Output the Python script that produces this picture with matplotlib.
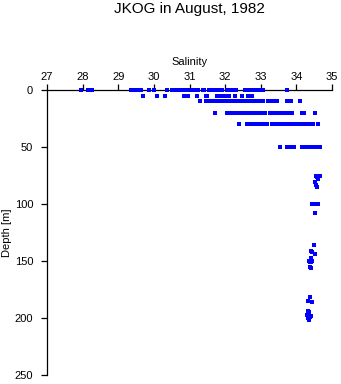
import matplotlib
matplotlib.use('Agg')
import matplotlib.pyplot as plt
import numpy as np

plt.rcParams['font.family'] = ['Liberation Sans', 'DejaVu Sans']

# Salinity readings at the standard upper depths (m)
sal_0m = [27.95, 28.15, 28.2, 28.25, 29.35, 29.42, 29.5, 29.58, 29.65, 29.85, 30.0,
          30.38, 30.5, 30.55, 30.6, 30.65, 30.7, 30.75, 30.8, 30.85, 30.95, 31.05,
          31.1, 31.15, 31.25, 31.38, 31.42, 31.55, 31.6, 31.65, 31.7, 31.75, 31.8,
          31.9, 32.05, 32.1, 32.2, 32.3, 32.55, 32.6, 32.65, 32.7, 32.75, 32.8,
          32.85, 32.9, 32.95, 33.0, 33.05, 33.75]
sal_5m = [29.7, 30.08, 30.3, 30.85, 30.97, 31.2, 31.45, 31.5, 31.78, 31.85, 31.9,
          31.95, 32.0, 32.05, 32.1, 32.27, 32.48, 32.65, 32.7, 32.75]
sal_10m = [31.3, 31.45, 31.5, 31.55, 31.6, 31.65, 31.7, 31.75, 31.8, 31.85, 31.95,
           32.0, 32.05, 32.1, 32.2, 32.25, 32.3, 32.4, 32.45, 32.5, 32.55, 32.6,
           32.65, 32.7, 32.75, 32.8, 32.85, 32.9, 32.95, 33.0, 33.05, 33.2, 33.25,
           33.3, 33.35, 33.4, 33.45, 33.75, 33.85, 34.1]
sal_20m = [31.72, 32.05, 32.1, 32.15, 32.2, 32.25, 32.3, 32.4, 32.45, 32.5, 32.55,
           32.6, 32.65, 32.7, 32.75, 32.8, 32.92, 33.0, 33.12, 33.25, 33.3, 33.35,
           33.4, 33.45, 33.5, 33.55, 33.6, 33.65, 33.7, 33.75, 33.8, 33.88, 34.15,
           34.22, 34.52]
sal_30m = [32.4, 32.6, 32.65, 32.7, 32.82, 32.88, 32.95, 33.0, 33.05, 33.18, 33.32,
           33.4, 33.45, 33.5, 33.55, 33.6, 33.65, 33.7, 33.75, 33.8, 33.85, 33.9,
           33.95, 34.0, 34.05, 34.15, 34.2, 34.25, 34.3, 34.35, 34.4, 34.48, 34.62]
sal_50m = [33.55, 33.75, 33.8, 33.85, 33.92, 34.15, 34.2, 34.25, 34.3, 34.35, 34.4,
           34.45, 34.5, 34.55, 34.6, 34.65]

levels = {0: sal_0m, 5: sal_5m, 10: sal_10m, 20: sal_20m, 30: sal_30m, 50: sal_50m}

# Deeper casts
deep_sal = [34.55, 34.6, 34.65, 34.58, 34.62, 34.6, 34.52, 34.55, 34.58,
            34.45, 34.5, 34.55, 34.6, 34.52, 34.5, 34.42, 34.45, 34.52,
            34.4, 34.42, 34.44, 34.4, 34.35, 34.38, 34.38, 34.4,
            34.38, 34.32, 34.45, 34.33, 34.36, 34.3, 34.35, 34.4, 34.33, 34.37, 34.35]
deep_depth = [75, 75, 75, 76, 77, 78, 81, 83, 85,
              100, 100, 100, 100, 108, 136, 141, 142, 144,
              147, 148, 150, 151, 150, 151, 155, 156,
              182, 185, 186, 194, 195, 197, 198, 198, 200, 199, 202]

fig = plt.figure(figsize=(3.41, 3.84), dpi=100)
ax = fig.add_axes([47/341, 1 - 375/384, 285/341, 285/384])

# draw the points over the spine like the original
for d, s in levels.items():
    ax.plot(s, [d] * len(s), 's', color='#0000ff', ms=2.2, mew=0, zorder=5, clip_on=False)
ax.plot(deep_sal, deep_depth, 's', color='#0000ff', ms=2.2, mew=0, zorder=5, clip_on=False)

ax.set_xlim(27, 35)
ax.set_ylim(250, 0)
ax.set_xticks(np.arange(27, 36, 1))
ax.set_yticks([0, 50, 100, 150, 200, 250])

ax.xaxis.tick_top()
ax.xaxis.set_label_position('top')
ax.spines['right'].set_visible(False)
ax.spines['bottom'].set_visible(False)
for sp in ['top', 'left']:
    ax.spines[sp].set_linewidth(0.9)
ax.tick_params(axis='x', direction='out', length=4, width=0.9, pad=2, labelsize=8)
ax.tick_params(axis='y', direction='out', length=4, width=0.9, pad=6, labelsize=8)

ax.set_xlabel('Salinity', fontsize=8, labelpad=5)
fig.text(7/341, 0.5 * (1 - 90/384 + 1 - 375/384), 'Depth [m]', rotation=90,
         ha='center', va='center', fontsize=8)
fig.text(189.5/341, 1 - 9/384, 'JKOG in August, 1982', ha='center', va='center', fontsize=11)

fig.savefig('out.png', dpi=100)
